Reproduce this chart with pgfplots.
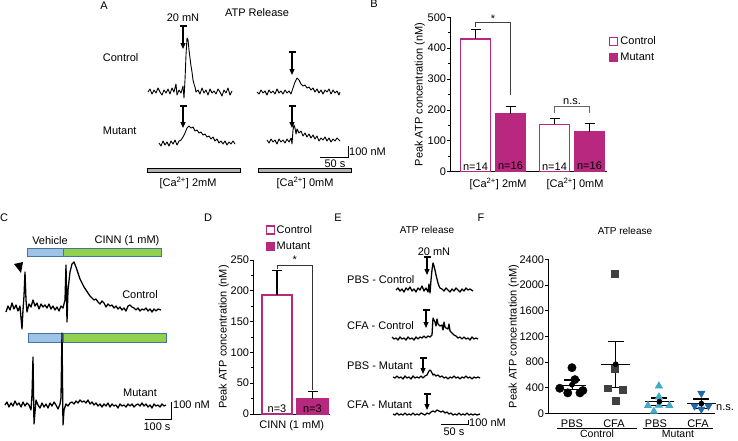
\documentclass[border=0pt]{standalone}
\usepackage{fontspec}
\setmainfont{Liberation Sans}
\setsansfont{Liberation Sans}
\usepackage{pgfplots}
\pgfplotsset{compat=1.18}
\usetikzlibrary{arrows.meta}
\definecolor{mag}{RGB}{183,40,126}
\definecolor{vehblue}{RGB}{157,195,230}
\definecolor{cinngreen}{RGB}{146,208,80}
\definecolor{barborder}{RGB}{70,115,160}
\definecolor{triup}{RGB}{64,170,200}
\definecolor{tridown}{RGB}{31,105,170}
\definecolor{sqgray}{RGB}{64,64,64}
\tikzset{stim/.style={-{Triangle[width=5pt,length=6pt]}, line width=1.2pt, black}}
\begin{document}
\fontsize{11pt}{13pt}\selectfont
\begin{tikzpicture}
\useasboundingbox (0,0) rectangle (738pt,440pt);
\pgfplotsset{
  bar axis/.style={scale only axis, anchor=south west, axis lines*=left,
    axis line style={-, line width=0.9pt}, tick align=outside,
    major tick length=3pt, minor tick length=2pt,
    tick style={black, line width=0.8pt}, clip=false,
    yticklabel style={inner xsep=0.8pt},
    /pgf/number format/assume math mode=true, /pgf/number format/1000 sep={},
    xtick style={draw=none}},
  trace/.style={black, line width=0.9pt, mark=none, line join=round},
  ttrace/.style={black, line width=1.3pt, mark=none, line join=round},
}
% ---------------- canvas axis (pixel coordinates) ----------------
\begin{axis}[at={(0pt,0pt)}, anchor=south west, scale only axis, width=738pt, height=440pt,
  xmin=0, xmax=738, ymin=0, ymax=440, y dir=reverse, hide axis, clip=false]
% ===== Panel A =====
\node at (axis cs:104,6) {A};
\node at (axis cs:257,13) {ATP Release};
\node at (axis cs:183,18) {20 mN};
\node[anchor=west] at (axis cs:99,58) {Control};
\node[anchor=west] at (axis cs:99,131) {Mutant};
\addplot[trace] coordinates {(148,92) (150,89) (152,94) (154,90) (156,93) (158,88) (160,92) (162,95) (164,90) (166,93) (168,89) (170,94) (172,88) (174,92) (176,84) (177,95) (179,90) (181,93) (183,86) (184,98) (185,80) (186,55) (187,38) (188,40) (189,50) (190,58) (191,66) (192,72) (193,80) (194,84) (195,87) (196,92) (198,90) (200,94) (202,88) (204,93) (206,90) (208,95) (210,89) (212,93) (214,91) (216,94) (218,89) (220,92) (222,96) (224,90) (226,93) (228,88) (230,95) (232,91)};
\addplot[trace] coordinates {(257,92) (259,94) (261,90) (263,93) (265,91) (267,95) (269,90) (271,93) (273,91) (275,94) (277,89) (279,93) (281,91) (283,94) (285,90) (287,93) (289,91) (291,94) (293,88) (295,82) (297,78) (299,80) (301,84) (303,86) (305,85) (307,88) (309,87) (311,90) (313,88) (315,92) (317,89) (319,93) (321,90) (323,94) (325,90) (327,92) (329,89) (331,94) (333,90) (335,93) (337,91) (339,95) (340,92)};
\addplot[trace] coordinates {(159,143) (161,146) (163,141) (165,145) (167,142) (169,146) (171,141) (173,144) (175,140) (177,145) (179,141) (181,140) (183,137) (185,133) (187,128) (189,126) (191,128) (193,127) (195,131) (197,130) (199,133) (201,132) (203,135) (205,134) (207,137) (209,136) (211,139) (213,137) (215,141) (217,139) (219,143) (221,141) (223,144) (225,141) (227,145) (229,142) (231,144) (233,141) (235,144)};
\addplot[trace] coordinates {(267,140) (269,143) (271,139) (273,142) (275,140) (277,144) (279,139) (281,142) (283,140) (285,143) (287,139) (289,142) (291,138) (292,144) (293,130) (294,125) (295,128) (296,134) (297,129) (299,133) (301,131) (303,136) (305,133) (307,137) (309,134) (311,138) (313,135) (315,139) (317,136) (319,141) (321,138) (323,140) (325,137) (327,141) (329,138) (331,142) (333,139) (335,141) (337,138) (340,141)};
\draw[stim] (axis cs:183,26) -- (axis cs:183,49);
\draw[line width=1.2pt] (axis cs:179.5,26) -- (axis cs:186.5,26);
\draw[stim] (axis cs:292,52) -- (axis cs:292,75);
\draw[line width=1.2pt] (axis cs:288.5,52) -- (axis cs:295.5,52);
\draw[stim] (axis cs:183,106) -- (axis cs:183,128);
\draw[line width=1.2pt] (axis cs:179.5,106) -- (axis cs:186.5,106);
\draw[stim] (axis cs:292,106) -- (axis cs:292,128);
\draw[line width=1.2pt] (axis cs:288.5,106) -- (axis cs:295.5,106);
\draw[line width=0.7pt] (axis cs:320,157) -- (axis cs:348,157) -- (axis cs:348,146);
\node[anchor=west, inner sep=1pt] at (axis cs:348,152) {100 nM};
\node at (axis cs:335,164) {50 s};
\draw[fill=gray!60, line width=0.7pt] (axis cs:147,168) rectangle (axis cs:240,172);
\draw[fill=gray!60, line width=0.7pt] (axis cs:258,168) rectangle (axis cs:351,172);
\node at (axis cs:188,183) {[Ca\textsuperscript{2+}] 2mM};
\node at (axis cs:305,183) {[Ca\textsuperscript{2+}] 0mM};
\node at (axis cs:374,4) {B};
% ===== Panel C =====
\node at (axis cs:4,218) {C};
\node at (axis cs:50,241) {Vehicle};
\node at (axis cs:127,241) {CINN (1 mM)};
\draw[barborder, fill=vehblue, line width=0.8pt] (axis cs:27,248) rectangle (axis cs:63,256);
\draw[barborder, fill=cinngreen, line width=0.8pt] (axis cs:63,248) rectangle (axis cs:161,256);
\draw[barborder, fill=vehblue, line width=0.8pt] (axis cs:28,333) rectangle (axis cs:63,342);
\draw[barborder, fill=cinngreen, line width=0.8pt] (axis cs:63,333) rectangle (axis cs:166,342);
\fill (axis cs:14,264) -- (axis cs:23,262) -- (axis cs:21,273) -- cycle;
\addplot[ttrace] coordinates {(6,312) (8,306) (10,310) (12,303) (14,309) (16,305) (18,311) (20,306) (21,318) (22,329) (23,310) (24,296) (25,272) (26,300) (27,312) (29,304) (31,307) (33,300) (35,306) (37,303) (39,309) (41,304) (43,307) (45,305) (47,308) (49,304) (51,309) (53,306) (55,310) (57,307) (59,311) (61,306) (63,308) (65,300) (66,265) (67,322) (68,290) (70,272) (72,264) (74,262) (76,267) (78,273) (80,279) (82,283) (84,287) (86,290) (88,293) (90,296) (92,298) (94,300) (96,299) (98,302) (100,304) (102,301) (104,303) (106,307) (108,304) (110,306) (112,305) (114,308) (116,306) (118,309) (120,307) (122,310) (124,308) (126,311) (128,306) (130,305) (132,307) (134,308) (136,310) (138,308) (140,311) (142,309) (144,310) (146,308) (148,311) (150,309) (152,312) (154,309) (156,311) (158,309) (161,310)};
\addplot[ttrace] coordinates {(5,405) (7,402) (9,407) (11,403) (13,406) (15,401) (17,405) (19,403) (21,407) (23,402) (25,406) (27,403) (29,405) (31,410) (32,395) (33,357) (34,424) (35,412) (36,400) (38,405) (40,408) (42,403) (44,407) (46,404) (48,408) (50,403) (52,406) (54,402) (56,405) (58,409) (60,404) (61,398) (62,333) (63,425) (64,410) (66,404) (68,406) (70,403) (72,402) (74,404) (76,401) (78,403) (80,400) (82,402) (84,401) (86,403) (88,400) (90,404) (92,402) (94,405) (96,403) (98,406) (100,404) (102,407) (104,404) (106,406) (108,403) (110,407) (112,404) (114,406) (116,405) (118,408) (120,404) (122,406) (124,405) (126,407) (128,404) (130,406) (132,404) (134,407) (136,405) (138,404) (140,406) (142,403) (144,406) (146,404) (148,407) (150,405) (152,408) (154,404) (156,406) (158,405) (160,407) (162,404) (164,406) (166,405)};
\node at (axis cs:140,295) {Control};
\node at (axis cs:140,393) {Mutant};
\draw[line width=0.7pt] (axis cs:145,419) -- (axis cs:171,419) -- (axis cs:171,402);
\node[anchor=west, inner sep=1pt] at (axis cs:172,405) {100 nM};
\node at (axis cs:157,427) {100 s};
% ===== Panel D letter =====
\node at (axis cs:208,218) {D};
% ===== Panel E =====
\node at (axis cs:338,218) {E};
\node[font=\fontsize{10pt}{12pt}\selectfont] at (axis cs:427,230) {ATP release};
\node at (axis cs:434,252) {20 mN};
\node[anchor=west, inner sep=0pt] at (axis cs:347,280) {PBS - Control};
\node[anchor=west, inner sep=0pt] at (axis cs:347,326) {CFA - Control};
\node[anchor=west, inner sep=0pt] at (axis cs:347,366) {PBS - Mutant};
\node[anchor=west, inner sep=0pt] at (axis cs:347,405) {CFA - Mutant};
\addplot[ttrace] coordinates {(396,290) (398,288) (400,291) (402,289) (404,292) (406,288) (408,290) (410,287) (412,291) (414,289) (416,292) (418,288) (420,290) (422,286) (424,291) (426,288) (428,292) (429,284) (430,293) (431,280) (432,270) (433,263) (434,266) (435,270) (436,275) (437,279) (438,283) (439,286) (440,288) (442,289) (444,291) (446,288) (448,290) (450,292) (452,289) (454,291) (456,288) (458,290) (460,292) (462,289) (464,291) (466,288) (468,290) (470,289) (473,291)};
\addplot[ttrace] coordinates {(392,337) (394,339) (396,338) (398,340) (400,337) (402,339) (404,338) (406,340) (408,337) (410,339) (412,338) (414,340) (416,337) (418,339) (420,337) (422,338) (424,336) (426,338) (428,336) (430,337) (432,335) (433,318) (434,320) (435,322) (436,326) (437,319) (438,324) (440,326) (442,325) (443,330) (444,322) (445,327) (446,328) (448,329) (449,324) (450,331) (452,333) (454,335) (456,336) (458,338) (460,337) (462,339) (464,337) (466,339) (468,338) (470,340) (472,337) (474,339) (476,338) (478,339)};
\addplot[ttrace] coordinates {(393,377) (395,378) (397,376) (399,378) (401,377) (403,379) (405,376) (407,378) (409,377) (411,379) (413,376) (415,378) (417,377) (419,378) (421,376) (423,378) (425,376) (427,375) (428,373) (429,371) (430,370) (431,371) (432,373) (433,375) (434,374) (436,376) (438,375) (440,377) (442,376) (444,378) (446,377) (448,379) (450,377) (452,378) (454,376) (456,378) (458,377) (460,379) (462,377) (464,378) (466,376) (468,378) (470,377) (472,379) (474,377) (476,378) (478,377) (480,378)};
\addplot[ttrace] coordinates {(393,414) (395,415) (397,413) (399,415) (401,414) (403,415) (405,413) (407,415) (409,414) (411,415) (413,413) (415,415) (417,414) (419,415) (421,413) (423,414) (425,415) (427,413) (429,414) (431,412) (433,411) (435,412) (437,410) (439,411) (441,412) (443,411) (445,413) (447,412) (449,414) (451,413) (453,415) (455,414) (457,415) (459,413) (461,415) (463,414) (465,415) (467,413) (469,415) (471,414) (473,415) (475,414) (477,415) (480,414)};
\draw[stim] (axis cs:427,257) -- (axis cs:427,275);
\draw[line width=1.2pt] (axis cs:423.5,257) -- (axis cs:430.5,257);
\draw[stim] (axis cs:426,310) -- (axis cs:426,328);
\draw[line width=1.2pt] (axis cs:422.5,310) -- (axis cs:429.5,310);
\draw[stim] (axis cs:423,358) -- (axis cs:423,374);
\draw[line width=1.2pt] (axis cs:419.5,358) -- (axis cs:426.5,358);
\draw[stim] (axis cs:427,394) -- (axis cs:427,410);
\draw[line width=1.2pt] (axis cs:423.5,394) -- (axis cs:430.5,394);
\draw[line width=0.7pt] (axis cs:441,424) -- (axis cs:468,424) -- (axis cs:468,420);
\node[anchor=west, inner sep=1pt] at (axis cs:468,423) {100 nM};
\node at (axis cs:454,432) {50 s};
% ===== Panel F annotations =====
\node at (axis cs:481,218) {F};
\node[font=\fontsize{10pt}{12pt}\selectfont] at (axis cs:625,231) {ATP release};
\draw[line width=0.8pt] (axis cs:557,428.5) -- (axis cs:637,428.5);
\draw[line width=0.8pt] (axis cs:643,428.5) -- (axis cs:713,428.5);
\node[font=\fontsize{10.5pt}{12pt}\selectfont] at (axis cs:597,433.5) {Control};
\node[font=\fontsize{10.5pt}{12pt}\selectfont] at (axis cs:678,433.5) {Mutant};
\node[anchor=west, inner sep=1pt] at (axis cs:715,408) {n.s.};
\end{axis}

% ---------------- Panel B ----------------
\begin{axis}[bar axis, at={(450pt,268.3pt)}, width=157pt, height=154.4pt,
  xmin=0, xmax=157, ymin=0, ymax=500, ytick={0,100,...,500}, minor y tick num=1,
  xtick={48,125}, xticklabels={{[Ca\textsuperscript{2+}] 2mM},{[Ca\textsuperscript{2+}] 0mM}},
  ylabel={Peak ATP concentration (nM)}, ylabel shift=-2pt,
  legend style={at={(1.013,0.89)}, anchor=north west, draw=none, fill=none,
    row sep=3pt, inner sep=0pt}, legend cell align=left]
\addlegendimage{legend image code/.code={\draw[draw=mag, fill=white, line width=1.2pt] (0pt,-4pt) rectangle (8pt,4pt);}}
\addlegendentry{Control}
\addlegendimage{legend image code/.code={\draw[draw=mag, fill=mag, line width=1.2pt] (0pt,-4pt) rectangle (8pt,4pt);}}
\addlegendentry{Mutant}
\addplot[ybar, bar width=30pt, bar shift=0pt, draw=mag, fill=white, line width=1.3pt, forget plot,
  error bars/.cd, y dir=plus, y explicit, error bar style={black, line width=1.2pt},
  error mark options={rotate=90, black, mark size=5pt, line width=1.2pt}]
  table[x=x, y=y, y error=e, row sep=\\] {x y e\\ 25.5 430 30\\ 104.5 153 19\\};
\addplot[ybar, bar width=30pt, bar shift=0pt, draw=mag, fill=mag, line width=1.3pt, forget plot,
  error bars/.cd, y dir=plus, y explicit, error bar style={black, line width=1.2pt},
  error mark options={rotate=90, black, mark size=5pt, line width=1.2pt}]
  table[x=x, y=y, y error=e, row sep=\\] {x y e\\ 60.5 188 24\\ 139.5 130 27\\};
\node[anchor=south, inner sep=1.5pt] at (axis cs:25.5,0) {n=14};
\node[anchor=south, inner sep=1.5pt] at (axis cs:60.5,0) {n=16};
\node[anchor=south, inner sep=1.5pt] at (axis cs:104.5,0) {n=14};
\node[anchor=south, inner sep=1.5pt] at (axis cs:139.5,0) {n=16};
\draw[black!75, line width=0.8pt] (axis cs:25.5,470) -- (axis cs:25.5,482) -- (axis cs:60.5,482) -- (axis cs:60.5,248);
\node at (axis cs:43,496) {*};
\draw[black!60, line width=0.9pt] (axis cs:104.5,190) -- (axis cs:104.5,210) -- (axis cs:139.5,210) -- (axis cs:139.5,190);
\node at (axis cs:122,228) {n.s.};
\end{axis}

% ---------------- Panel D ----------------
\begin{axis}[bar axis, at={(253pt,26pt)}, width=77pt, height=154pt,
  xmin=0, xmax=77, ymin=0, ymax=250, ytick={0,50,...,250}, minor y tick num=1,
  xtick={38.7}, xticklabels={CINN (1 mM)},
  ylabel={Peak ATP concentration (nM)}, ylabel shift=-3pt,
  legend style={at={(0.16,1.24)}, anchor=north west, draw=none, fill=none,
    row sep=3pt, inner sep=0pt}, legend cell align=left]
\addlegendimage{legend image code/.code={\draw[draw=mag, fill=white, line width=1.2pt] (0pt,-4pt) rectangle (8pt,4pt);}}
\addlegendentry{Control}
\addlegendimage{legend image code/.code={\draw[draw=mag, fill=mag, line width=1.2pt] (0pt,-4pt) rectangle (8pt,4pt);}}
\addlegendentry{Mutant}
\addplot[ybar, bar width=30pt, bar shift=0pt, draw=mag, fill=white, line width=1.3pt, forget plot,
  error bars/.cd, y dir=plus, y explicit, error bar style={black, line width=1.2pt},
  error mark options={rotate=90, black, mark size=5pt, line width=1.2pt}]
  table[x=x, y=y, y error=e, row sep=\\] {x y e\\ 24 193 40\\};
\addplot[ybar, bar width=31pt, bar shift=0pt, draw=mag, fill=mag, line width=1.3pt, forget plot,
  error bars/.cd, y dir=plus, y explicit, error bar style={black, line width=1.2pt},
  error mark options={rotate=90, black, mark size=5pt, line width=1.2pt}]
  table[x=x, y=y, y error=e, row sep=\\] {x y e\\ 59.5 25 11\\};
\node[anchor=south, inner sep=1.5pt] at (axis cs:24,0) {n=3};
\node[anchor=south, inner sep=1.5pt] at (axis cs:59.5,0) {n=3};
\draw[black!80, line width=0.8pt] (axis cs:24,235) -- (axis cs:24,242) -- (axis cs:59.5,242) -- (axis cs:59.5,39);
\node at (axis cs:41.7,250) {*};
\end{axis}

% ---------------- Panel F ----------------
\begin{axis}[bar axis, at={(548pt,26.7pt)}, width=167pt, height=154pt,
  xmin=0.43, xmax=4.405, ymin=0, ymax=2400, ytick={0,400,...,2400},
  xtick={1,2,3,4}, xticklabels={PBS,CFA,PBS,CFA},
  ylabel={Peak ATP concentration (nM)}, ylabel shift=-4pt]
\addplot[only marks, mark=*, mark size=4.2pt, black] coordinates {(1,711) (1.07,525) (0.71,390) (1.26,355) (0.9,318) (1.19,318)};
\addplot[only marks, mark=square*, mark size=3.4pt, sqgray] coordinates {(2.02,2170) (2.02,690) (1.86,390) (2.2,365) (2.04,197)};
\addplot[only marks, mark=triangle*, mark size=4.3pt, triup] coordinates {(3.07,426) (3.07,255) (2.81,120) (3.07,125) (3.32,120) (2.95,30)};
\addplot[only marks, mark=triangle*, mark size=4.3pt, mark options={rotate=180}, tridown] coordinates {(4.08,311) (3.92,114) (4.25,114) (4.08,65)};
\addplot[only marks, mark=none, black, line width=1.5pt,
  error bars/.cd, x dir=both, x fixed=0.345, error mark=none]
  coordinates {(1,445) (2.04,765) (3.08,182) (4.08,151)};
\addplot[only marks, mark=none, black, line width=1.2pt,
  error bars/.cd, y dir=both, y explicit,
  error mark options={rotate=90, black, mark size=8pt, line width=1.2pt}]
  coordinates {(1,445) +- (0,75) (2.04,765) +- (0,360) (3.08,182) +- (0,55) (4.08,151) +- (0,72)};
\end{axis}
\end{tikzpicture}
\end{document}
